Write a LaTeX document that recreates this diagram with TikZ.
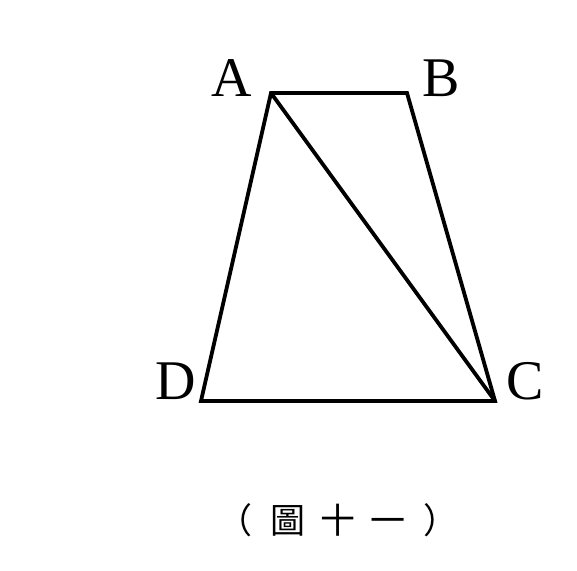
\documentclass[tikz,border=0pt]{standalone}
\usepackage{fontspec}
\setmainfont{Liberation Serif}
\newfontfamily\cjkfont{Noto Sans CJK TC}
\usetikzlibrary{positioning}

\begin{document}
\begin{tikzpicture}[
      x=1pt, y=1pt,
      edge/.style={draw=black, line width=3.8pt, line join=miter},
      vlabel/.style={font=\fontsize{56}{60}\selectfont, inner sep=0pt},
      caption/.style={font=\cjkfont\fontsize{35}{40}\selectfont, inner sep=0pt}
    ]

      % Fix the page to the reference size
      \useasboundingbox (0,0) rectangle (577,570);

      % Corners of the trapezoid
      \coordinate (A) at (271,477);
      \coordinate (B) at (407,477);
      \coordinate (C) at (495,169);
      \coordinate (D) at (201,169);

      % Sides and diagonal
      \draw[edge] (A) -- (B) -- (C) -- (D) -- cycle;
      \draw[edge] (A) -- (C);

      % Vertex labels
      \node[vlabel] (lA) at (232,492) {A};
      \node[vlabel] (lB) at (441,492) {B};
      \node[vlabel] (lC) at (525,189) {C};
      \node[vlabel] (lD) at (175.5,189) {D};

      % Caption
      \node[caption] (cap) at (338,50) {（\hspace{18pt}圖\hspace{15pt}十\hspace{15pt}一\hspace{18pt}）};

    \end{tikzpicture}
\end{document}
